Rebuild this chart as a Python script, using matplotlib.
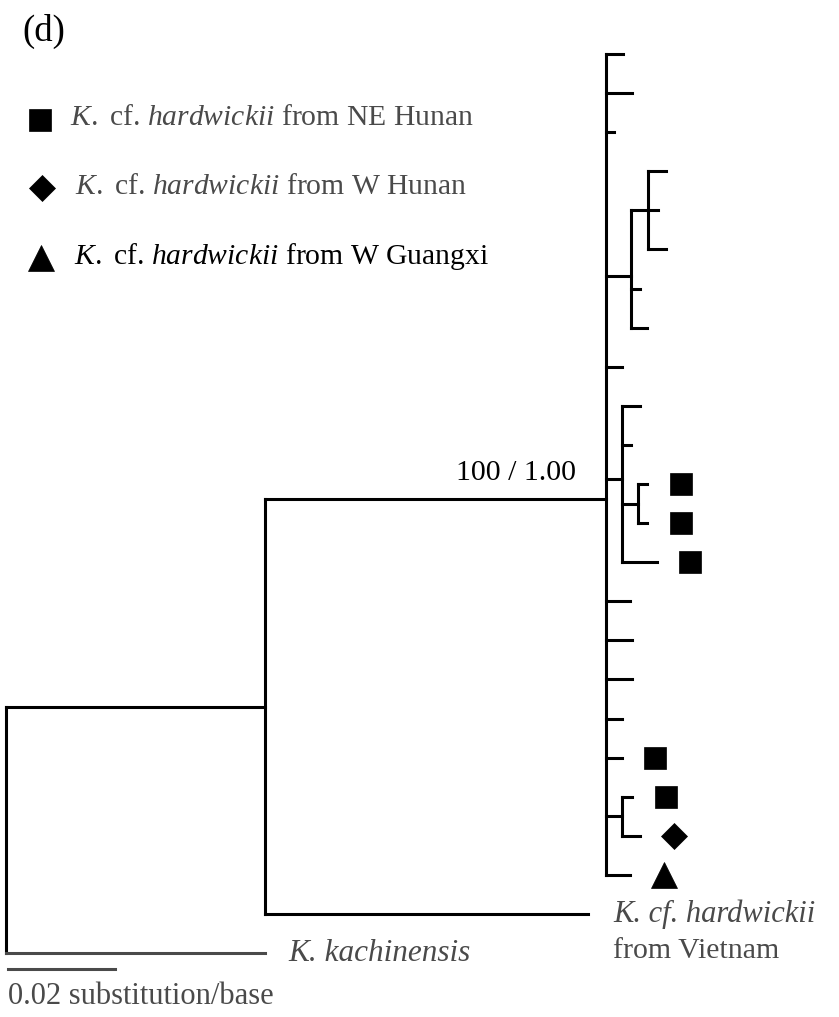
import re
import matplotlib
matplotlib.use("Agg")
import matplotlib.pyplot as plt

plt.rcParams['font.family'] = ['Liberation Serif', 'DejaVu Serif']
plt.rcParams['mathtext.fontset'] = 'custom'
plt.rcParams['mathtext.rm'] = 'Liberation Serif'
plt.rcParams['mathtext.it'] = 'Liberation Serif:italic'

# ---- data -----------------------------------------------------------------
# Phylogeny (Newick), branch lengths in substitutions/base
hardwickii_clade = (
    "(h01:0.0032,h02:0.0049,h03:0.0015,"
    "((h04:0.0034,h05:0.0019,h06:0.0034):0.0032,h07:0.0017,h08:0.0030):0.0047,"
    "h09:0.0030,"
    "(h10:0.0034,h11:0.0017,(h12:0.0017,h13:0.0017):0.0030,h14:0.0065):0.0030,"
    "h15:0.0045,h16:0.0049,h17:0.0049,h18:0.0030,h19:0.0030,"
    "(h20:0.0019,h21:0.0034):0.0030,h22:0.0045)"
)
tree_newick = f"(({hardwickii_clade}hw:0.0637,vietnam:0.0604):0.0484,kachinensis:0.0484);"

support_node = "hw"
support_label = "100 / 1.00"

# Sample origins marked next to tips
ne_hunan_tips = ["h12", "h13", "h14", "h19", "h20"]
w_hunan_tips = ["h21"]
w_guangxi_tips = ["h22"]
marker_groups = [("s", ne_hunan_tips), ("D", w_hunan_tips), ("^", w_guangxi_tips)]

legend_labels = [
    r"$\mathit{K.}$ cf. $\mathit{hardwickii}$ from NE Hunan",
    r"$\mathit{K.}$ cf. $\mathit{hardwickii}$ from W Hunan",
    r"$\mathit{K.}$ cf. $\mathit{hardwickii}$ from W Guangxi",
]
scale_length = 0.02
scale_label = "0.02 substitution/base"
panel_label = "(d)"


# ---- tree parsing / layout -------------------------------------------------
def parse_newick(s):
    pos = 0

    def node():
        nonlocal pos
        children = []
        if s[pos] == "(":
            pos += 1
            while True:
                children.append(node())
                if s[pos] == ",":
                    pos += 1
                    continue
                if s[pos] == ")":
                    pos += 1
                    break
        name = re.match(r"[^:,();]*", s[pos:]).group(0)
        pos += len(name)
        length = 0.0
        if s[pos] == ":":
            m = re.match(r":([0-9.eE+-]+)", s[pos:])
            length = float(m.group(1))
            pos += len(m.group(0))
        return {"name": name, "length": length, "children": children}

    return node()


def layout(n, x_parent, counter):
    n["x"] = x_parent + n["length"]
    n["px"] = x_parent
    if n["children"]:
        for c in n["children"]:
            layout(c, n["x"], counter)
        n["y"] = sum(c["y"] for c in n["children"]) / len(n["children"])
    else:
        n["y"] = counter[0]
        counter[0] += 1


def walk(n):
    yield n
    for c in n["children"]:
        yield from walk(c)


root = parse_newick(tree_newick)
counter = [0]
layout(root, 0.0, counter)
nodes = {n["name"]: n for n in walk(root) if n["name"]}
n_tips = counter[0]

# ---- figure ----------------------------------------------------------------
W, H = 839, 1017
fig = plt.figure(figsize=(W / 100, H / 100), dpi=100)
ax = fig.add_axes([0, 0, 1, 1])
ax.axis("off")

px_per_unit = 5350.0
tip_step = 39.09
ax.set_xlim(-6 / px_per_unit, (W - 6) / px_per_unit)
ax.set_ylim((H - 54) / tip_step, -54 / tip_step)

lw = 2.2
gray = "#4a4a4a"
for n in walk(root):
    col = gray if n["name"] == "kachinensis" else "black"
    if n is not root:
        ax.plot([n["px"], n["x"]], [n["y"], n["y"]], color=col, lw=lw,
                solid_capstyle="projecting")
    if n["children"]:
        ys = [c["y"] for c in n["children"]]
        ax.plot([n["x"], n["x"]], [min(ys), max(ys)], color="black", lw=lw,
                solid_capstyle="projecting")

# support value
sn = nodes[support_node]
ax.text(sn["x"] - 0.0055, sn["y"] - 0.66, support_label, fontsize=21.5,
        ha="right", va="center")

# origin markers beside tips
marker_sizes = {"s": 15.5, "D": 13.2, "^": 18.5}
offset = 0.0063
for mk, tips in marker_groups:
    for t in tips:
        n = nodes[t]
        ax.plot(n["x"] + offset, n["y"], marker=mk, ms=marker_sizes[mk],
                color="black", mew=0.5, linestyle="none")

# outgroup / Vietnam labels
kn = nodes["kachinensis"]
ax.text(kn["x"] + 0.0043, kn["y"], "K. kachinensis", fontsize=22.5,
        fontstyle="italic", ha="left", va="center", color=gray)
vn = nodes["vietnam"]
ax.text(vn["x"] + 0.0047, vn["y"], "K. cf. hardwickii", fontsize=22,
        fontstyle="italic", ha="left", va="center", color=gray)
ax.text(vn["x"] + 0.0047, vn["y"] + 0.95, "from Vietnam", fontsize=21.5,
        ha="left", va="center", color=gray)

# scale bar
sy = n_tips - 1 + 0.4
ax.plot([0.0004, 0.0004 + scale_length], [sy, sy], color=gray, lw=lw)
ax.text(0.0004, sy + 0.7, scale_label, fontsize=22, ha="left", va="center",
        color=gray)


# legend and panel label (pixel positions)
def fpos(x, y):
    return x / W, 1 - y / H


legend_marker_pos = [(40, 120), (42, 188), (41, 258)]
legend_text_pos = [(70, 118), (75, 187), (74, 257)]
legend_colors = [gray, gray, "black"]
for (mk, _), (mx, my), (tx, ty), lab, c in zip(marker_groups, legend_marker_pos,
                                                legend_text_pos, legend_labels,
                                                legend_colors):
    fx, fy = fpos(mx, my)
    ax.plot(fx, fy, marker=mk, ms=marker_sizes[mk], color="black", mew=0.5,
            transform=ax.transAxes, linestyle="none")
    gx, gy = fpos(tx, ty)
    ax.text(gx, gy, lab, fontsize=21.3, ha="left", va="center", color=c,
            transform=ax.transAxes)

px_, py_ = fpos(22, 31)
ax.text(px_, py_, panel_label, fontsize=26.5, ha="left", va="center",
        transform=ax.transAxes)

fig.savefig("out.png", dpi=100)
